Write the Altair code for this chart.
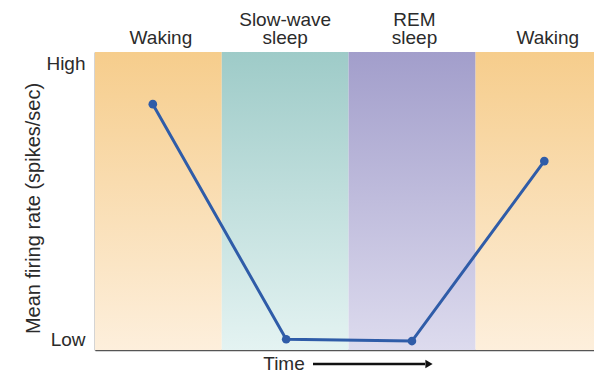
import altair as alt
import pandas as pd

# Sleep/wake stages along the time axis (time units 0-100)
stage_names = ["Waking", "Slow-wave sleep", "REM sleep", "Waking"]
stage_start = [0, 25, 50, 75]
stage_end = [25, 50, 75, 100]
stage_kind = ["wake", "sws", "rem", "wake"]

# Header labels (two lines) and their time positions
label_line1 = ["", "Slow-wave", "REM", ""]
label_line2 = ["Waking", "sleep", "sleep", "Waking"]
label_time = [13, 37.5, 63, 89.3]

# Mean firing rate (0 = low, 1 = high)
point_time = [11.4, 37.7, 62.5, 88.6]
firing_rate = [0.825, 0.036, 0.030, 0.634]

FONT = "Liberation Sans"
TXT = "#2b2b2b"
AX = "#555555"

W, H = 499, 298

bands = pd.DataFrame({"name": stage_names, "start": stage_start,
                      "end": stage_end, "kind": stage_kind})
labels = pd.DataFrame({"t": label_time, "l1": label_line1, "l2": label_line2})
pts = pd.DataFrame({"t": point_time, "rate": firing_rate})

xs = alt.Scale(domain=[0, 98.4], nice=False, zero=False)
ys = alt.Scale(domain=[0, 1], nice=False)

def grad(top, bottom):
    return alt.Gradient(gradient="linear", x1=0, y1=0, x2=0, y2=1,
                        stops=[alt.GradientStop(color=top, offset=0),
                               alt.GradientStop(color=bottom, offset=1)])

def band_layer(kind, top, bottom):
    return alt.Chart(bands).transform_filter(alt.datum.kind == kind).mark_rect(
        fill=grad(top, bottom), clip=True).encode(
        x=alt.X("start:Q", scale=xs, axis=alt.Axis(title=None, labels=False, ticks=False,
                                                   grid=False, domainColor=AX, domainWidth=1.5)),
        x2="end:Q",
        y=alt.value(0), y2=alt.value(H))

wake = band_layer("wake", "#f6cd8c", "#fdefdc")
sws = band_layer("sws", "#9ecbc8", "#e4f3f2")
rem = band_layer("rem", "#a29ecb", "#dddbee")

yaxis = alt.Axis(values=[0.035, 0.96],
                 labelExpr="datum.value > 0.5 ? 'High' : 'Low'",
                 title="Mean firing rate (spikes/sec)", titleFont=FONT, titleFontSize=20,
                 titleFontWeight="normal", titleColor=TXT, titleAngle=-90,
                 titleX=-62, titleY=156, titleAlign="center", titleBaseline="middle",
                 labelFont=FONT, labelFontSize=19, labelColor=TXT, labelPadding=10,
                 labelBaseline="middle", ticks=False, grid=False,
                 domainColor=AX, domainWidth=1.5)

line = alt.Chart(pts).mark_line(color="#2f5ca8", strokeWidth=3).encode(
    x=alt.X("t:Q", scale=xs),
    y=alt.Y("rate:Q", scale=ys, axis=yaxis))
dots = alt.Chart(pts).mark_point(filled=True, color="#2f5ca8", size=75, opacity=1).encode(
    x=alt.X("t:Q", scale=xs), y=alt.Y("rate:Q", scale=ys))

top1 = alt.Chart(labels).mark_text(font=FONT, fontSize=19, color=TXT,
                                   baseline="alphabetic").encode(
    x=alt.X("t:Q", scale=xs), y=alt.value(-26), text="l1:N")
top2 = alt.Chart(labels).mark_text(font=FONT, fontSize=19, color=TXT,
                                   baseline="alphabetic").encode(
    x=alt.X("t:Q", scale=xs), y=alt.value(-8), text="l2:N")

anno = pd.DataFrame({"label": ["Time"]})
time_txt = alt.Chart(anno).mark_text(font=FONT, fontSize=19, color=TXT,
                                     baseline="alphabetic").encode(
    x=alt.value(189), y=alt.value(H + 20), text="label:N")
arrow_shaft = alt.Chart(anno).mark_rule(color="#111111", strokeWidth=2.5).encode(
    x=alt.value(218), x2=alt.value(330), y=alt.value(H + 14))
arrow_head = alt.Chart(anno).mark_point(shape="triangle-right", filled=True,
                                        color="#111111", size=70, opacity=1).encode(
    x=alt.value(334), y=alt.value(H + 14))

chart = alt.layer(wake, sws, rem, line, dots, top1, top2, time_txt, arrow_shaft,
                  arrow_head).properties(
    width=W, height=H,
    padding={"left": 87, "top": 44, "right": 0, "bottom": 26},
    autosize=alt.AutoSizeParams(type="none"),
    background="white",
).configure_view(stroke=None)

chart.save("out.html", embed_options={"renderer": "svg", "actions": False})
